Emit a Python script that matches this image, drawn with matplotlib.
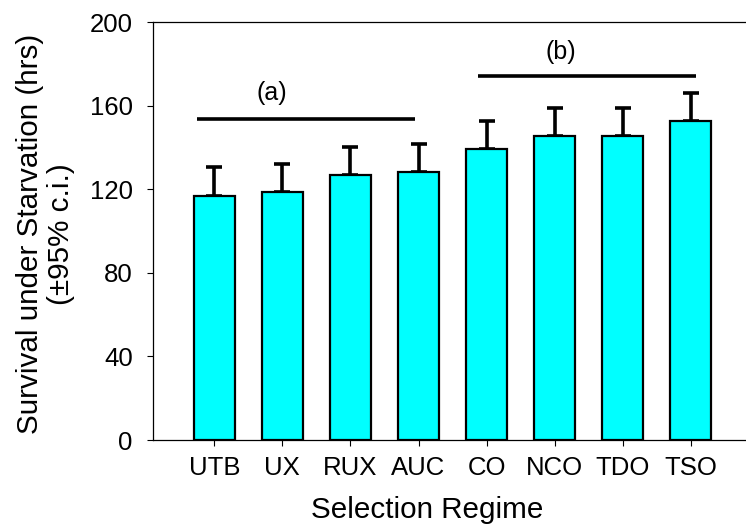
import numpy as np
import matplotlib
matplotlib.use("Agg")
import matplotlib.pyplot as plt

plt.rcParams['font.family'] = ['Liberation Sans', 'DejaVu Sans']

# values
regimes = ["UTB", "UX", "RUX", "AUC", "CO", "NCO", "TDO", "TSO"]
survival = [116.7, 118.7, 126.8, 128.1, 139.1, 145.3, 145.6, 152.6]
ci_upper = [13.9, 13.4, 13.5, 13.5, 13.7, 13.4, 13.4, 13.6]

# significance groups: label, line start/end, line height, text position
group_labels = ["(a)", "(b)"]
group_x0 = [-0.26, 3.87]
group_x1 = [2.95, 7.08]
group_line_y = [153.7, 174.2]
group_text_x = [0.85, 5.09]
group_text_y = [165.9, 185.8]

fig = plt.figure(figsize=(7.46, 5.29), dpi=100)
ax = fig.add_axes([153/746, 1 - 440/529, 1 - 153/746, (440 - 22)/529])

x = np.arange(len(regimes))
ax.bar(x, survival, width=0.6, color="#00FFFF", edgecolor="black", linewidth=1.6, zorder=2)
ax.errorbar(x, survival, yerr=[np.zeros(len(x)), ci_upper], fmt="none", ecolor="black",
            elinewidth=2.6, capsize=6, capthick=2.6, zorder=1)

for lab, x0, x1, ly, tx, ty in zip(group_labels, group_x0, group_x1, group_line_y, group_text_x, group_text_y):
    ax.plot([x0, x1], [ly, ly], color="black", linewidth=2.6, solid_capstyle="butt")
    ax.text(tx, ty, lab, ha="center", va="center", fontsize=18)

ax.set_xlim(-0.9, 7.81)
ax.set_ylim(0, 200)
ax.set_yticks([0, 40, 80, 120, 160, 200])
ax.set_xticks(x)
ax.set_xticklabels(regimes)
ax.tick_params(axis="both", direction="out", length=4.5, width=0.8, labelsize=18.5)
ax.tick_params(axis="y", pad=10)
ax.tick_params(axis="x", pad=7)
ax.spines["right"].set_visible(False)
for s in ["left", "top", "bottom"]:
    ax.spines[s].set_linewidth(0.9)

ax.set_xlabel("Selection Regime", fontsize=21.3)
ax.xaxis.set_label_coords(0.462, -0.135)
ax.set_ylabel("Survival under Starvation (hrs)\n(±95% c.i.)", fontsize=21.3, linespacing=1.12)
ax.yaxis.set_label_coords(-0.132, 0.493)

fig.savefig("out.png", dpi=100)
